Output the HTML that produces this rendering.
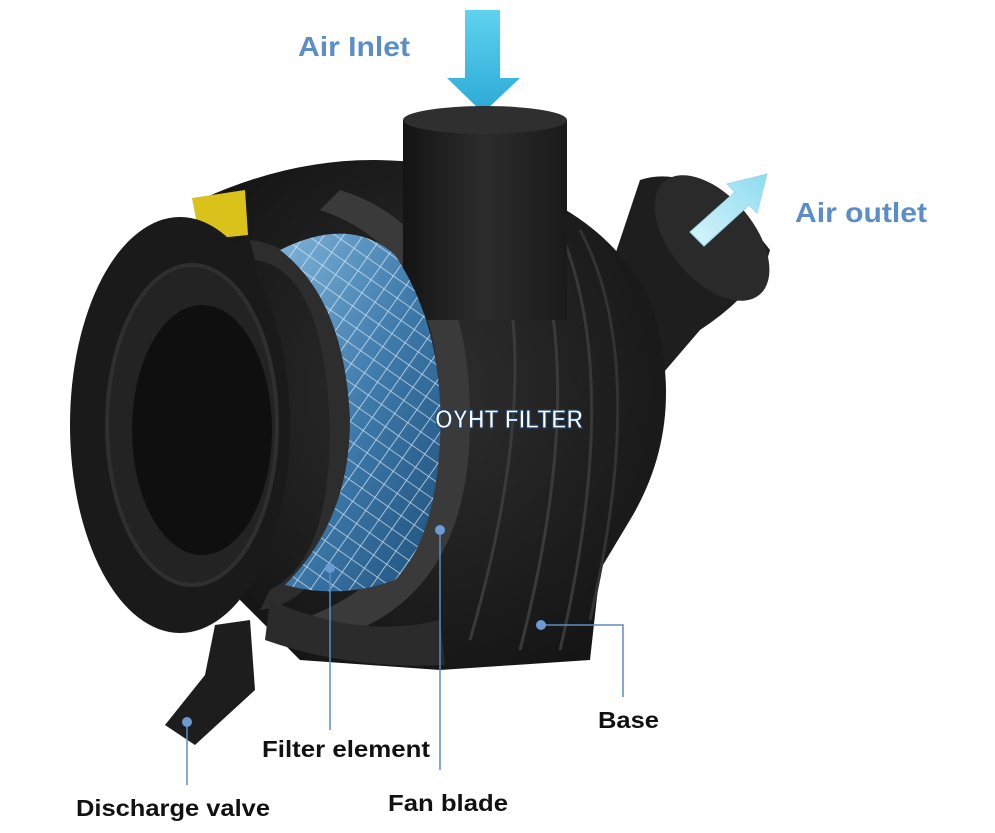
<!DOCTYPE html>
<html><head><meta charset="utf-8"><style>
html,body{margin:0;padding:0;background:#fff;}
svg{display:block;}
text{font-family:"Liberation Sans",Arial,sans-serif;font-weight:bold;}
</style></head><body>
<svg width="995" height="833" viewBox="0 0 995 833" xmlns="http://www.w3.org/2000/svg">
<defs>
<linearGradient id="arrD" x1="0" y1="0" x2="0" y2="1"><stop offset="0" stop-color="#5fd3ef"/><stop offset="1" stop-color="#2aa9d6"/></linearGradient>
<linearGradient id="arrO" x1="0" y1="1" x2="1" y2="0"><stop offset="0" stop-color="#d8f4fb"/><stop offset="1" stop-color="#8ddcf0"/></linearGradient>
<linearGradient id="tube" x1="0" y1="0" x2="1" y2="0"><stop offset="0" stop-color="#141414"/><stop offset="0.5" stop-color="#2c2c2c"/><stop offset="1" stop-color="#1a1a1a"/></linearGradient>
<radialGradient id="body" cx="0.5" cy="0.45" r="0.6"><stop offset="0" stop-color="#2e2e2e"/><stop offset="1" stop-color="#151515"/></radialGradient>
<linearGradient id="blue" x1="0" y1="0" x2="1" y2="1"><stop offset="0" stop-color="#7eb3d9"/><stop offset="0.5" stop-color="#3e7aab"/><stop offset="1" stop-color="#1f4f7a"/></linearGradient>
<pattern id="mesh" width="16" height="16" patternUnits="userSpaceOnUse" patternTransform="rotate(35)">
<path d="M0 0H16M0 0V16" stroke="#e8f2fb" stroke-width="1.6" fill="none"/></pattern>
</defs>
<polygon points="465,10 500,10 500,78 520,78 483,113 447,78 465,78" fill="url(#arrD)"/>
<text x="298" y="56" font-size="28" fill="#5b8ec6" textLength="112" lengthAdjust="spacingAndGlyphs">Air Inlet</text>
<text x="795" y="222" font-size="28" fill="#5b8ec6" textLength="132" lengthAdjust="spacingAndGlyphs">Air outlet</text>
<path d="M640,180 Q700,160 770,250 Q760,290 700,330 L640,400 L600,300 Z" fill="#1e1e1e"/>
<ellipse cx="712" cy="238" rx="42" ry="74" transform="rotate(-40 712 238)" fill="#2a2a2a"/>
<path d="M200,200 Q330,140 460,170 Q600,200 650,300 Q690,420 630,520 L600,570 L590,660 L440,670 L300,660 L240,600 Z" fill="url(#body)"/>
<path d="M470,170 Q560,330 470,640" stroke="#3a3a3a" stroke-width="3" fill="none"/>
<path d="M510,180 Q600,340 520,650" stroke="#3a3a3a" stroke-width="3" fill="none"/>
<path d="M545,200 Q630,350 560,650" stroke="#383838" stroke-width="3" fill="none"/>
<path d="M580,230 Q650,360 590,620" stroke="#333" stroke-width="3" fill="none"/>
<path d="M340,190 Q470,230 470,420 Q470,600 330,640 L300,620 Q440,570 440,410 Q440,250 320,210 Z" fill="#3a3a3a"/>
<rect x="403" y="120" width="164" height="200" fill="url(#tube)"/>
<ellipse cx="485" cy="120" rx="82" ry="14" fill="#2f2f2f"/>
<path d="M192,198 L245,190 L248,235 L200,240 Z" fill="#d9c21a"/>
<ellipse cx="180" cy="425" rx="110" ry="208" fill="#1a1a1a"/>
<ellipse cx="192" cy="425" rx="85" ry="160" fill="#232323" stroke="#2f2f2f" stroke-width="4"/>
<ellipse cx="202" cy="430" rx="70" ry="125" fill="#0f0f0f"/>
<path d="M250,240 Q340,250 355,430 Q345,600 260,610 L270,590 Q330,560 330,430 Q325,270 255,260 Z" fill="#2d2d2d"/>
<path d="M280,250 Q350,215 395,255 Q445,330 440,440 Q435,540 395,580 Q340,600 285,585 Q350,520 350,420 Q345,300 280,250 Z" fill="url(#blue)"/>
<path d="M280,250 Q350,215 395,255 Q445,330 440,440 Q435,540 395,580 Q340,600 285,585 Q350,520 350,420 Q345,300 280,250 Z" fill="url(#mesh)" opacity="0.8"/>
<text x="435" y="428" font-size="26" fill="#fff" stroke="#1c3f66" stroke-width="1.2" textLength="148" lengthAdjust="spacingAndGlyphs">OYHT FILTER</text>
<path d="M270,600 Q360,640 440,620 L445,665 Q350,670 265,640 Z" fill="#2b2b2b"/>
<path d="M215,625 L250,620 L255,690 L195,745 L165,725 L205,675 Z" fill="#1d1d1d"/>
<g stroke="#5b8ec6" stroke-width="1.5" fill="none">
<path d="M187,722 L187,785"/>
<path d="M330,568 L330,730"/>
<path d="M440,530 L440,770"/>
<path d="M541,625 L623,625 L623,697"/>
</g>
<g fill="#6a9bd3">
<circle cx="187" cy="722" r="5"/><circle cx="330" cy="568" r="5"/><circle cx="440" cy="530" r="5"/><circle cx="541" cy="625" r="5"/>
</g>
<polygon points="690,232 735,192 727,184 767,174 757,213 749,205 704,246" fill="url(#arrO)" stroke="#9fd8ec" stroke-width="1"/>
<g font-size="23" fill="#111">
<text x="76" y="816" textLength="194" lengthAdjust="spacingAndGlyphs">Discharge valve</text>
<text x="262" y="757" textLength="168" lengthAdjust="spacingAndGlyphs">Filter element</text>
<text x="388" y="811" textLength="120" lengthAdjust="spacingAndGlyphs">Fan blade</text>
<text x="598" y="728" textLength="61" lengthAdjust="spacingAndGlyphs">Base</text>
</g>
</svg>
</body></html>
